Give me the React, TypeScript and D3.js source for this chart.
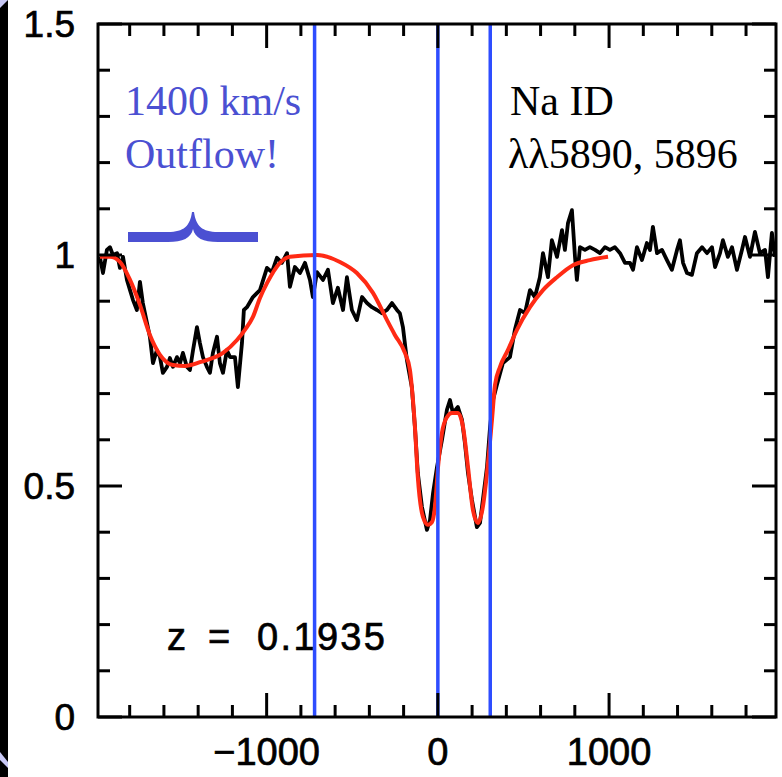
import React from "react";
import * as d3 from "d3";

// Observed spectrum: velocity (km/s), normalized flux
const specV = [
  -1974, -1956, -1933, -1915, -1898, -1874, -1857, -1839, -1816, -1798, -1781, -1758, -1740, -1723, -1699, -1682,
  -1664, -1641, -1623, -1606, -1582, -1565, -1547, -1524, -1506, -1489, -1466, -1448, -1430, -1407, -1390, -1372,
  -1349, -1331, -1314, -1290, -1273, -1255, -1232, -1214, -1185, -1168, -1144, -1133,
  -1115, -1080, -1039, -998, -969, -940, -911, -881, -864, -835, -805, -776, -747, -730, -706, -671, -642, -613,
  -584, -554, -531, -502, -473, -443, -414, -385, -356, -327, -297,
  -268, -239, -222, -204, -181, -152, -134, -117, -93, -64, -46, -28, -5, 24, 53, 71, 88, 117, 141, 158, 176, 199,
  228, 246, 263, 287, 305, 322, 345, 380, 421,
  450, 480, 509, 538, 567, 596, 614, 643, 666, 696, 725, 742, 760, 783, 801, 812, 830, 859, 888, 918, 947, 976,
  1005, 1034, 1064, 1093, 1122, 1140, 1163,
  1192, 1221, 1239, 1256, 1280, 1309, 1338, 1367, 1397, 1414, 1432, 1455, 1484, 1513, 1543, 1572, 1601, 1619,
  1648, 1665, 1694, 1718, 1747, 1776, 1794, 1823, 1852, 1881, 1911, 1928, 1951, 1969,
];
const specF = [
  0.996, 0.961, 1.011, 1.017, 1.0, 1.004, 0.972, 0.996, 0.946, 0.924, 0.903, 0.881, 0.942, 0.896, 0.853, 0.823,
  0.766, 0.794, 0.779, 0.745, 0.758, 0.777, 0.758, 0.779, 0.766, 0.788, 0.758, 0.751, 0.794, 0.844, 0.81, 0.779,
  0.758, 0.745, 0.788, 0.823, 0.766, 0.745, 0.794, 0.779, 0.779, 0.714, 0.81, 0.881,
  0.887, 0.909, 0.924, 0.972, 0.963, 0.994, 0.983, 1.004, 0.931, 0.974, 0.961, 0.983, 0.946, 0.909, 0.963, 0.946,
  0.968, 0.896, 0.929, 0.881, 0.952, 0.881, 0.859, 0.909, 0.896, 0.887, 0.881, 0.874, 0.881,
  0.896, 0.881, 0.874, 0.844, 0.773, 0.714, 0.628, 0.528, 0.455, 0.405, 0.426, 0.485, 0.541, 0.6, 0.665, 0.686,
  0.658, 0.671, 0.643, 0.593, 0.528, 0.47, 0.411, 0.42, 0.47, 0.541, 0.628, 0.686, 0.719, 0.766, 0.779,
  0.838, 0.881, 0.874, 0.924, 0.909, 0.952, 1.004, 0.952, 1.032, 0.996, 1.054, 1.011, 1.069, 1.097, 0.996, 0.946,
  1.017, 1.011, 1.017, 1.011, 1.004, 1.017, 1.011, 1.017, 1.004, 0.983, 0.983, 0.968, 1.017,
  0.989, 1.026, 1.011, 1.061, 1.004, 1.011, 0.989, 0.968, 1.011, 1.032, 0.983, 0.961, 0.957, 1.004, 1.017, 1.004,
  1.017, 0.974, 1.004, 1.032, 0.996, 1.017, 0.968, 1.011, 1.039, 0.996, 1.05, 1.004, 1.011, 0.952, 1.048, 0.996,
];

// Model fit
const fitV = [
  -1974, -1915, -1857, -1798, -1740, -1682, -1623, -1547, -1477, -1390, -1255, -1173, -1127, -1080, -1039, -998,
  -922, -864, -706, -572, -473, -379, -297, -251, -192, -163, -152, -134, -117, -87, -58, -34, -17, 1, 24, 53, 82,
  117, 147, 176, 205, 234, 263, 287, 316, 334, 363, 409, 462, 538, 614, 696, 789, 888, 994,
];
const fitF = [
  0.996, 0.996, 0.985, 0.946, 0.892, 0.827, 0.784, 0.762, 0.76, 0.768, 0.788, 0.816, 0.838, 0.866, 0.907, 0.939,
  0.983, 0.996, 1.0, 0.985, 0.961, 0.918, 0.859, 0.827, 0.788, 0.751, 0.714, 0.628, 0.519, 0.433, 0.416, 0.422,
  0.455, 0.541, 0.615, 0.649, 0.658, 0.658, 0.628, 0.541, 0.448, 0.42, 0.455, 0.528, 0.643, 0.719, 0.758, 0.794,
  0.838, 0.887, 0.924, 0.952, 0.978, 0.989, 0.996,
];

const markerLines = [-720, 0, 306];
const xMajor = [-1000, 0, 1000];
const xMajorLabels = ["\u22121000", "0", "1000"];
const yMajor = [0, 0.5, 1, 1.5];
const yMajorLabels = ["0", "0.5", "1", "1.5"];

export default function App() {
  const L = 98, R = 776, T = 24, B = 717;
  const x = d3.scaleLinear().domain([-1985, 1975]).range([L, R]);
  const y = d3.scaleLinear().domain([0, 1.5]).range([B, T]);

  const spec = specV.map((v, i) => [v, specF[i]] as [number, number]);
  const fit = fitV.map((v, i) => [v, fitF[i]] as [number, number]);
  const lineGen = d3.line<[number, number]>().x((d) => x(d[0])).y((d) => y(d[1]));
  const fitGen = d3
    .line<[number, number]>()
    .x((d) => x(d[0]))
    .y((d) => y(d[1]))
    .curve(d3.curveMonotoneX);

  const xMinor = d3.range(-1800, 1801, 200).filter((v) => !xMajor.includes(v));
  const yMinor = d3.range(1, 15).map((k) => k / 10).filter((v) => !yMajor.some((m) => Math.abs(m - v) < 1e-9));

  const minorLen = 12, majorLen = 24;
  const blue = "#4b50d2";
  const sans = "'Liberation Sans', Arial, Helvetica, sans-serif";
  const serif = "'Liberation Serif', 'Times New Roman', serif";
  const heavy = { stroke: "#000", strokeWidth: 0.7 };

  return (
    <svg
      width={782}
      height={777}
      style={{ position: "absolute", left: 0, top: 0, background: "#fff" }}
    >
      <rect x={0} y={0} width={782} height={777} fill="#fff" />
      {/* slide frame strip */}
      <rect x={0} y={0} width={8} height={777} fill="#000" />
      <polygon points="0,0 8,0 0,8" fill="#c8c8f5" />
      <polygon points="0,752 8,762 8,768 0,760" fill="#c8c8f5" />

      {/* data */}
      <path d={lineGen(spec) || ""} fill="none" stroke="#000" strokeWidth={3.8} strokeLinejoin="round" />
      <path d={fitGen(fit) || ""} fill="none" stroke="#ff2a14" strokeWidth={4} strokeLinejoin="round" />

      {/* annotations */}
      <text x={167} y={650} fontFamily={sans} fontSize={38} fill="#000" {...heavy}>z</text>
      <text x={208} y={650} fontFamily={sans} fontSize={38} fill="#000" {...heavy}>=</text>
      <text x={257} y={650} fontFamily={sans} fontSize={38} fill="#000" textLength={128} lengthAdjust="spacing" {...heavy}>0.1935</text>

      {/* marker lines */}
      {markerLines.map((v) => (
        <line key={v} x1={x(v)} x2={x(v)} y1={T} y2={B} stroke="#2e4dff" strokeWidth={3.5} />
      ))}

      <text x={125} y={115} fontFamily={serif} fontSize={42} fill={blue}>1400 km/s</text>
      <text x={125} y={168} fontFamily={serif} fontSize={42} fill={blue}>Outflow!</text>
      <path
        d="M128,232 H168 C184,232 190,226 192,212 H194 C196,226 202,232 218,232 H258 V242 H218 C203,242 195,238 193,229 C191,238 183,242 168,242 H128 Z"
        fill={blue}
      />
      <text x={510} y={115} fontFamily={serif} fontSize={42} fill="#000">Na ID</text>
      <text x={508} y={168} fontFamily={serif} fontSize={42} fill="#000">λλ5890, 5896</text>

      {/* axes frame */}
      <rect x={L} y={T} width={R - L} height={B - T} fill="none" stroke="#000" strokeWidth={3} />
      {xMinor.map((v) => (
        <g key={"xm" + v}>
          <line x1={x(v)} x2={x(v)} y1={B} y2={B - minorLen} stroke="#000" strokeWidth={3} />
          <line x1={x(v)} x2={x(v)} y1={T} y2={T + minorLen} stroke="#000" strokeWidth={3} />
        </g>
      ))}
      {xMajor.map((v, i) => (
        <g key={"xM" + v}>
          <line x1={x(v)} x2={x(v)} y1={B} y2={B - majorLen} stroke="#000" strokeWidth={3} />
          <line x1={x(v)} x2={x(v)} y1={T} y2={T + majorLen} stroke="#000" strokeWidth={3} />
          <text x={x(v)} y={765} textAnchor="middle" fontFamily={sans} fontSize={38} fill="#000" {...heavy}>
            {xMajorLabels[i]}
          </text>
        </g>
      ))}
      {yMinor.map((v) => (
        <g key={"ym" + v}>
          <line x1={L} x2={L + minorLen} y1={y(v)} y2={y(v)} stroke="#000" strokeWidth={3} />
          <line x1={R} x2={R - minorLen} y1={y(v)} y2={y(v)} stroke="#000" strokeWidth={3} />
        </g>
      ))}
      {yMajor.map((v, i) => (
        <g key={"yM" + v}>
          <line x1={L} x2={L + majorLen} y1={y(v)} y2={y(v)} stroke="#000" strokeWidth={3} />
          <line x1={R} x2={R - majorLen} y1={y(v)} y2={y(v)} stroke="#000" strokeWidth={3} />
          <text x={75} y={y(v) + 13} textAnchor="end" fontFamily={sans} fontSize={37} fill="#000" {...heavy}>
            {yMajorLabels[i]}
          </text>
        </g>
      ))}
    </svg>
  );
}
